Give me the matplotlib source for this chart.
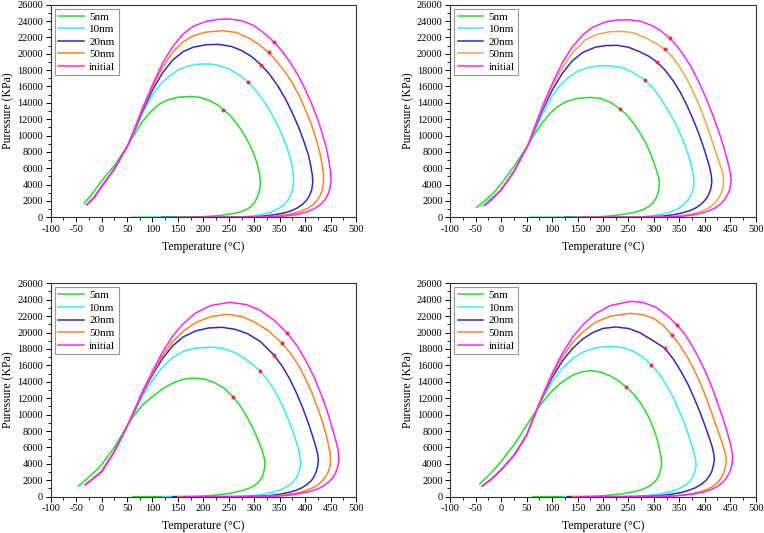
import matplotlib
matplotlib.use("Agg")
import matplotlib.pyplot as plt
import matplotlib.ticker as ticker

plt.rcParams["font.family"] = ["Liberation Serif", "DejaVu Serif"]
plt.rcParams["axes.unicode_minus"] = False

# --- data (T [degC], P [KPa]) ---
labels = ["5nm", "10nm", "20nm", "50nm", "initial"]

# top-left panel
tl_5nm = [(-34, 1750), (-20, 2750), (0, 4450), (26, 6400), (52, 8850), (65, 10200), (80, 11700), (100, 13150),
          (115, 13900), (130, 14350), (150, 14680), (174, 14780), (195, 14650), (215, 14200), (230, 13650),
          (240, 13100), (252, 12500), (264, 11600), (275, 10650), (285, 9600), (293, 8600), (300, 7600), (305, 6700),
          (309, 5700), (311, 4900), (312, 4300), (311, 3600), (309, 3000), (306, 2450), (301, 1850), (294, 1350),
          (285, 950), (272, 650), (259, 470), (240, 290), (220, 160), (200, 80), (180, 30), (150, 5), (100, 0),
          (59, 0)]
tl_10nm = [(-30, 1500), (-15, 2400), (0, 3750), (26, 6000), (52, 8850), (65, 10550), (80, 12650), (100, 15000),
           (115, 16200), (130, 17150), (150, 18000), (170, 18500), (190, 18720), (213, 18750), (235, 18500),
           (255, 18000), (272, 17350), (288, 16545), (303, 15500), (318, 14300), (331, 13000), (343, 11600),
           (354, 10200), (363, 8800), (370, 7400), (375, 6100), (377, 5000), (377, 4100), (375, 3300), (371, 2600),
           (366, 2050), (359, 1550), (350, 1150), (340, 800), (328, 530), (311, 290), (290, 130), (270, 55),
           (240, 20), (200, 5), (160, 0), (100, 0)]
tl_20nm = [(-29, 1550), (-15, 2400), (0, 3750), (26, 6000), (52, 8850), (65, 10700), (80, 12950), (100, 15550),
           (120, 17700), (140, 19250), (160, 20250), (180, 20800), (205, 21100), (230, 21150), (255, 20900),
           (275, 20400), (295, 19650), (313, 18660), (330, 17500), (347, 16000), (362, 14400), (376, 12600),
           (388, 10900), (398, 9200), (406, 7700), (411, 6300), (414, 5200), (415, 4300), (413, 3400), (409, 2700),
           (403, 2100), (395, 1600), (385, 1150), (373, 800), (358, 520), (337, 285), (315, 130), (298, 60),
           (270, 25), (240, 10), (200, 0), (118, 0)]
tl_50nm = [(-29, 1550), (-15, 2400), (0, 3750), (26, 6000), (52, 8850), (65, 10800), (80, 13150), (100, 15950),
           (120, 18400), (140, 20200), (160, 21450), (180, 22200), (205, 22650), (239, 22820), (265, 22600),
           (290, 21900), (310, 21100), (328, 20170), (345, 19000), (360, 17800), (375, 16400), (389, 14800),
           (401, 13100), (412, 11400), (421, 9700), (428, 8100), (433, 6600), (436, 5300), (436, 4300), (434, 3400),
           (430, 2700), (424, 2100), (416, 1550), (405, 1100), (392, 750), (377, 480), (360, 280), (340, 140),
           (315, 50), (280, 15), (220, 0), (150, 0)]
tl_init = [(-29, 1550), (-15, 2400), (0, 3750), (26, 6000), (52, 8850), (65, 10900), (80, 13300), (100, 16200),
           (120, 18900), (140, 20900), (160, 22400), (180, 23350), (205, 23950), (228, 24200), (251, 24250),
           (275, 24050), (298, 23500), (318, 22600), (338, 21475), (355, 20300), (370, 19000), (385, 17500),
           (399, 15800), (412, 14000), (424, 12100), (434, 10200), (442, 8400), (447, 6800), (450, 5500), (451, 4500),
           (449, 3600), (445, 2800), (439, 2150), (430, 1550), (418, 1050), (404, 680), (388, 400), (370, 220),
           (345, 90), (310, 25), (270, 5), (220, 0), (180, 0)]
tl_crit_t = [239, 288, 313, 328, 338]
tl_crit_p = [13080, 16545, 18660, 20170, 21475]

# top-right panel
tr_5nm = [(-48, 1224), (-30, 2150), (-15, 3000), (0, 4100), (26, 6300), (53, 8860), (65, 10100), (80, 11500),
          (100, 12950), (115, 13700), (130, 14200), (150, 14550), (175, 14670), (195, 14550), (215, 14050),
          (234, 13240), (248, 12450), (260, 11500), (272, 10400), (283, 9200), (292, 8000), (299, 6900), (305, 5800),
          (309, 4900), (311, 4200), (310, 3500), (308, 2900), (304, 2300), (298, 1750), (290, 1300), (279, 950),
          (265, 650), (251, 470), (230, 280), (210, 150), (190, 60), (160, 15), (120, 0), (57, 0)]
tr_10nm = [(-38, 1306), (-20, 2300), (0, 3350), (26, 5700), (53, 8860), (65, 10400), (80, 12500), (100, 14800),
           (115, 16050), (130, 17000), (150, 17850), (170, 18300), (190, 18520), (211, 18540), (235, 18350),
           (258, 17750), (282, 16790), (300, 15700), (315, 14400), (330, 12900), (343, 11400), (354, 9900),
           (363, 8500), (370, 7200), (375, 6000), (378, 5000), (379, 4200), (377, 3400), (373, 2700), (367, 2100),
           (359, 1550), (349, 1100), (337, 750), (322, 470), (305, 260), (285, 110), (265, 45), (230, 10), (180, 0),
           (110, 0)]
tr_20nm = [(-32, 1470), (-15, 2400), (0, 3350), (26, 5700), (53, 8860), (65, 10700), (80, 12950), (100, 15500),
           (120, 17600), (140, 19150), (160, 20150), (185, 20800), (205, 21000), (228, 21030), (250, 20800),
           (270, 20300), (290, 19700), (306, 18990), (322, 18000), (338, 16700), (352, 15300), (365, 13700),
           (377, 12000), (388, 10300), (397, 8700), (404, 7300), (410, 6000), (413, 5100), (414, 4300), (412, 3500),
           (408, 2800), (402, 2200), (394, 1650), (384, 1200), (371, 820), (355, 520), (336, 285), (315, 130),
           (290, 55), (250, 15), (200, 0), (125, 0)]
tr_50nm = [(-32, 1470), (-15, 2400), (0, 3350), (26, 5700), (53, 8860), (65, 10850), (80, 13200), (100, 15950),
           (120, 18300), (140, 20100), (165, 21700), (190, 22400), (215, 22700), (238, 22740), (260, 22550),
           (282, 22000), (302, 21350), (321, 20580), (337, 19550), (351, 18350), (365, 16900), (378, 15300),
           (390, 13600), (401, 11800), (411, 10000), (420, 8300), (428, 6800), (434, 5700), (437, 4800), (437, 4000),
           (434, 3200), (429, 2500), (422, 1900), (413, 1350), (402, 950), (388, 620), (372, 380), (355, 200),
           (335, 90), (316, 50), (280, 15), (220, 0), (145, 0)]
tr_init = [(-32, 1470), (-15, 2400), (0, 3350), (26, 5700), (53, 8860), (65, 10950), (80, 13400), (100, 16300),
           (120, 18900), (140, 20850), (160, 22300), (180, 23250), (205, 23900), (228, 24120), (251, 24165),
           (275, 23950), (298, 23400), (315, 22750), (331, 21920), (346, 20900), (360, 19700), (374, 18300),
           (388, 16600), (401, 14800), (414, 12800), (426, 10800), (436, 8900), (443, 7300), (448, 6100), (451, 5200),
           (452, 4400), (450, 3600), (446, 2900), (440, 2250), (432, 1650), (421, 1150), (408, 780), (392, 480),
           (375, 270), (355, 130), (330, 50), (290, 15), (240, 0), (160, 0)]
tr_crit_t = [234, 282, 306, 321, 331]
tr_crit_p = [13240, 16790, 18990, 20580, 21920]

# bottom-left panel
bl_5nm = [(-46, 1300), (-30, 2100), (-15, 2950), (0, 3900), (26, 6100), (51, 8700), (65, 10000), (80, 11150),
          (100, 12200), (120, 13150), (140, 13850), (160, 14300), (180, 14460), (200, 14350), (220, 13950),
          (240, 13250), (258, 12190), (272, 11100), (285, 9800), (296, 8500), (305, 7300), (312, 6200), (317, 5300),
          (320, 4600), (321, 4000), (320, 3400), (318, 2800), (314, 2250), (308, 1750), (300, 1350), (289, 1000),
          (275, 720), (258, 480), (240, 300), (220, 170), (200, 80), (175, 25), (140, 5), (100, 0), (62, 0)]
bl_10nm = [(-32, 1460), (-15, 2300), (0, 3050), (26, 5600), (51, 8700), (65, 10350), (80, 12200), (100, 14200),
           (120, 15800), (140, 16950), (160, 17700), (185, 18100), (216, 18240), (240, 18050), (262, 17550),
           (285, 16700), (311, 15356), (328, 14100), (343, 12600), (356, 11000), (367, 9400), (376, 7900), (383, 6600),
           (388, 5500), (390, 4700), (391, 4000), (389, 3300), (386, 2700), (381, 2150), (374, 1650), (365, 1250),
           (354, 900), (340, 600), (324, 370), (305, 190), (285, 80), (260, 25), (220, 5), (180, 0), (120, 0)]
bl_20nm = [(-32, 1460), (-15, 2300), (0, 3050), (26, 5600), (51, 8700), (65, 10500), (80, 12550), (100, 14850),
           (120, 16850), (140, 18400), (160, 19450), (185, 20200), (210, 20550), (236, 20640), (262, 20400),
           (287, 19850), (312, 18900), (338, 17300), (355, 15900), (370, 14300), (384, 12500), (396, 10700),
           (406, 9000), (414, 7500), (420, 6300), (424, 5400), (426, 4600), (425, 3800), (422, 3100), (418, 2500),
           (412, 1950), (404, 1500), (394, 1100), (382, 780), (368, 520), (350, 300), (330, 140), (305, 50),
           (270, 12), (200, 0), (140, 0)]
bl_50nm = [(-32, 1460), (-15, 2300), (0, 3050), (26, 5600), (51, 8700), (65, 10550), (80, 12650), (100, 15050),
           (120, 17200), (140, 18900), (160, 20150), (185, 21200), (215, 21950), (246, 22220), (275, 21950),
           (300, 21300), (328, 20200), (354, 18730), (372, 17400), (388, 15900), (402, 14200), (415, 12400),
           (426, 10600), (435, 8900), (442, 7400), (446, 6200), (449, 5300), (450, 4500), (449, 3800), (446, 3100),
           (441, 2500), (434, 1950), (425, 1450), (414, 1050), (400, 720), (384, 450), (365, 250), (345, 110),
           (320, 40), (280, 10), (220, 0), (150, 0)]
bl_init = [(-32, 1460), (-15, 2300), (0, 3050), (26, 5600), (51, 8700), (65, 10650), (80, 12800), (100, 15300),
           (120, 17650), (140, 19600), (160, 21050), (185, 22400), (215, 23300), (252, 23685), (285, 23400),
           (312, 22700), (340, 21450), (365, 19900), (385, 18300), (402, 16500), (418, 14500), (432, 12400),
           (444, 10300), (453, 8400), (460, 6900), (464, 5900), (466, 5000), (466, 4300), (464, 3600), (460, 2900),
           (454, 2300), (446, 1750), (436, 1300), (424, 930), (409, 640), (392, 400), (372, 210), (350, 90),
           (320, 25), (280, 5), (240, 0), (160, 0)]
bl_crit_t = [258, 311, 338, 354, 365]
bl_crit_p = [12190, 15356, 17300, 18730, 19900]

# bottom-right panel
br_5nm = [(-42, 1550), (-20, 2900), (0, 4300), (26, 6400), (50, 8700), (70, 10600), (85, 11800), (100, 12900),
          (120, 14000), (140, 14800), (158, 15200), (175, 15360), (195, 15200), (215, 14700), (232, 14050),
          (246, 13370), (260, 12500), (273, 11500), (284, 10400), (293, 9300), (300, 8200), (306, 7100), (310, 6100),
          (313, 5200), (315, 4500), (315, 3800), (313, 3200), (310, 2600), (305, 2050), (298, 1600), (289, 1200),
          (277, 880), (262, 620), (245, 420), (225, 260), (205, 140), (185, 60), (160, 15), (120, 0), (62, 0)]
br_10nm = [(-37, 1300), (-20, 2100), (0, 3270), (26, 5100), (50, 7500), (70, 10600), (85, 12400), (100, 14000),
           (120, 15650), (140, 16800), (160, 17600), (185, 18150), (217, 18320), (240, 18150), (262, 17650),
           (280, 16950), (295, 16090), (310, 15000), (324, 13700), (337, 12200), (349, 10600), (359, 9100),
           (367, 7700), (374, 6400), (379, 5300), (382, 4500), (383, 3800), (381, 3100), (377, 2450), (371, 1900),
           (363, 1450), (353, 1080), (341, 770), (327, 520), (310, 320), (290, 160), (270, 70), (240, 20), (200, 5),
           (160, 0), (120, 0)]
br_20nm = [(-37, 1300), (-20, 2100), (0, 3270), (26, 5100), (50, 7500), (70, 10600), (85, 12650), (100, 14500),
           (120, 16500), (140, 18050), (160, 19200), (180, 20000), (200, 20500), (225, 20680), (250, 20500),
           (272, 20000), (296, 19100), (321, 18120), (338, 16800), (353, 15300), (367, 13700), (380, 11900),
           (392, 10100), (402, 8400), (410, 7000), (415, 6000), (418, 5200), (419, 4500), (417, 3800), (414, 3100),
           (409, 2500), (402, 1950), (393, 1500), (382, 1100), (369, 780), (354, 520), (335, 300), (315, 150),
           (295, 60), (260, 15), (200, 0), (130, 0)]
br_50nm = [(-37, 1300), (-20, 2100), (0, 3270), (26, 5100), (50, 7500), (70, 10600), (85, 12750), (100, 14800),
           (120, 17000), (140, 18750), (160, 20050), (185, 21250), (215, 22000), (254, 22340), (280, 22150),
           (300, 21700), (318, 20900), (336, 19660), (352, 18400), (366, 17000), (379, 15500), (391, 13900),
           (402, 12200), (412, 10500), (421, 8900), (429, 7500), (435, 6400), (439, 5600), (442, 4900), (442, 4200),
           (440, 3500), (437, 2850), (432, 2250), (425, 1700), (416, 1250), (405, 900), (391, 610), (375, 380),
           (355, 200), (332, 80), (300, 20), (250, 0), (140, 0)]
br_init = [(-37, 1300), (-20, 2100), (0, 3270), (26, 5100), (50, 7500), (70, 10600), (85, 12900), (100, 15000),
           (120, 17450), (140, 19400), (160, 20900), (185, 22300), (215, 23300), (254, 23800), (280, 23650),
           (305, 23050), (326, 22100), (346, 20880), (362, 19700), (376, 18300), (390, 16700), (403, 15000),
           (415, 13200), (426, 11300), (436, 9500), (444, 7900), (450, 6600), (453, 5700), (455, 4900), (454, 4200),
           (452, 3500), (448, 2850), (442, 2250), (435, 1700), (425, 1250), (413, 880), (398, 580), (380, 350),
           (360, 180), (335, 70), (300, 15), (250, 0), (150, 0)]
br_crit_t = [246, 295, 321, 336, 346]
br_crit_p = [13370, 16090, 18120, 19660, 20880]

xticks = list(range(-100, 501, 50))
yticks = list(range(0, 26001, 2000))

colors = ["#22E022", "#33F0F0", "#2A2ACC", "#FF8020", "#FF22FF"]
colors_tr = ["#22E022", "#33F0F0", "#2A2ACC", "#F2A444", "#FF22FF"]

fig = plt.figure(figsize=(7.64, 5.33), dpi=100)

panels = [
    ([0.0664, 0.5923, 0.3996, 0.3989], [tl_5nm, tl_10nm, tl_20nm, tl_50nm, tl_init], tl_crit_t, tl_crit_p, colors),
    ([0.5894, 0.5923, 0.3996, 0.3989], [tr_5nm, tr_10nm, tr_20nm, tr_50nm, tr_init], tr_crit_t, tr_crit_p, colors_tr),
    ([0.0664, 0.0681, 0.3996, 0.4004], [bl_5nm, bl_10nm, bl_20nm, bl_50nm, bl_init], bl_crit_t, bl_crit_p, colors),
    ([0.5894, 0.0681, 0.3996, 0.4004], [br_5nm, br_10nm, br_20nm, br_50nm, br_init], br_crit_t, br_crit_p, colors),
]

for rect, curves, ct, cp, cols in panels:
    ax = fig.add_axes(rect)
    for curve, lab, c in zip(curves, labels, cols):
        t = [pt[0] for pt in curve]
        p = [pt[1] for pt in curve]
        ax.plot(t, p, color=c, lw=1.1, label=lab)
    ax.plot(ct, cp, "o", color="#FF2040", ms=2.8, mec="none", zorder=5)

    ax.set_xlim(-100, 500)
    ax.set_ylim(0, 26000)
    ax.set_xticks(xticks)
    ax.set_yticks(yticks)
    ax.xaxis.set_minor_locator(ticker.MultipleLocator(25))
    ax.yaxis.set_minor_locator(ticker.MultipleLocator(1000))
    ax.tick_params(which="major", direction="out", length=3.5, width=0.7, labelsize=7.5, pad=2)
    ax.tick_params(which="minor", direction="out", length=2, width=0.6)
    for s in ax.spines.values():
        s.set_linewidth(0.8)
        s.set_color("#333333")

    ax.set_xlabel("Temperature (°C)", fontsize=8.5, labelpad=5)
    ax.set_ylabel("Puressure (KPa)", fontsize=8.5, labelpad=2)

    leg = ax.legend(loc="upper left", fontsize=8, frameon=True, fancybox=False, framealpha=1,
                    edgecolor="#999999", handlelength=2.3, handletextpad=0.5, labelspacing=0.25,
                    borderpad=0.3, borderaxespad=0.35)
    leg.get_frame().set_linewidth(0.8)

fig.savefig("out.png", dpi=100)
